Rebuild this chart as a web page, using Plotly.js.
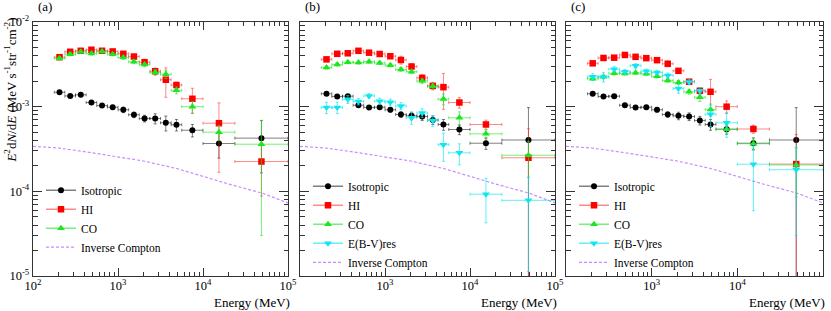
<!DOCTYPE html>
<html><head><meta charset="utf-8">
<script src="https://cdn.plot.ly/plotly-3.0.1.min.js"></script>
<style>html,body{margin:0;padding:0;background:#fff}#chart{width:831px;height:311px}</style>
</head><body><div id="chart"></div>
<script>
// Energy bins (MeV): centres and bin edges
const energy = [205, 274, 365, 487, 649, 866, 1155, 1540, 2054, 2738, 3652, 4870, 7499, 15399, 48697];
const eLo    = [178, 237, 316, 422, 562, 750, 1000, 1334, 1778, 2371, 3162, 4217, 5623, 10000, 23714];
const eHi    = [237, 316, 422, 562, 750, 1000, 1334, 1778, 2371, 3162, 4217, 5623, 10000, 23714, 100000];

// Panel (a)
const isoA    = [1.48e-3, 1.34e-3, 1.38e-3, 1.12e-3, 1.03e-3, 0.986e-3, 0.918e-3, 0.802e-3, 0.725e-3, 0.725e-3, 0.645e-3, 0.611e-3, 0.527e-3, 0.367e-3, 0.425e-3];
const isoAErr = [5e-5, 4.7e-5, 4.8e-5, 4.5e-5, 4.5e-5, 4.8e-5, 6.8e-5, 6e-5, 6.5e-5, 1.0e-4, 1.29e-4, 9.5e-5, 8.8e-5, 1.2e-4, 2.6e-4];
const hiA     = [3.84e-3, 4.45e-3, 4.57e-3, 4.70e-3, 4.57e-3, 4.49e-3, 4.21e-3, 3.91e-3, 3.35e-3, 2.62e-3, 2.08e-3, 1.80e-3, 1.24e-3, 0.638e-3, 0.225e-3];
const hiAErr  = [1.7e-4, 2.0e-4, 2.0e-4, 2.1e-4, 2.0e-4, 2.0e-4, 2.2e-4, 2.5e-4, 2.8e-4, 2.4e-4, 7.9e-4, 1.5e-4, 4.1e-4, 4.7e-4, 1.37e-4];
const coA     = [3.74e-3, 4.17e-3, 4.45e-3, 4.25e-3, 4.49e-3, 4.17e-3, 3.81e-3, 3.39e-3, 3.15e-3, 2.55e-3, 2.42e-3, 1.56e-3, 1.00e-3, 0.50e-3, 0.36e-3];
const coAErr  = [1.6e-4, 1.8e-4, 1.9e-4, 1.8e-4, 1.9e-4, 1.8e-4, 1.8e-4, 1.8e-4, 1.8e-4, 2.0e-4, 2.7e-4, 1.5e-4, 1.56e-4, 1.0e-4, 3.3e-4];

// Panel (b)
const isoB    = [1.42e-3, 1.32e-3, 1.33e-3, 1.04e-3, 0.977e-3, 0.986e-3, 0.918e-3, 0.809e-3, 0.780e-3, 0.765e-3, 0.696e-3, 0.616e-3, 0.537e-3, 0.370e-3, 0.404e-3];
const isoBErr = [4.5e-5, 4.5e-5, 4.5e-5, 4.2e-5, 4.2e-5, 4.5e-5, 5.5e-5, 6e-5, 8e-5, 8e-5, 8e-5, 9e-5, 7e-5, 5.7e-5, 5.7e-4];
const hiB     = [3.62e-3, 4.21e-3, 4.27e-3, 4.57e-3, 4.34e-3, 4.19e-3, 3.94e-3, 3.56e-3, 2.98e-3, 2.19e-3, 1.76e-3, 1.70e-3, 1.12e-3, 0.616e-3, 0.249e-3];
const hiBErr  = [1.6e-4, 1.8e-4, 1.8e-4, 2.0e-4, 1.9e-4, 1.8e-4, 1.8e-4, 3.8e-4, 2.4e-4, 1.8e-4, 1.8e-4, 7.7e-4, 1.6e-4, 7.6e-5, 3.0e-4];
const coB     = [2.90e-3, 3.15e-3, 3.35e-3, 3.32e-3, 3.40e-3, 3.28e-3, 3.09e-3, 2.75e-3, 2.59e-3, 2.01e-3, 1.74e-3, 1.23e-3, 0.739e-3, 0.478e-3, 0.267e-3];
const coBErr  = [1.2e-4, 1.3e-4, 1.4e-4, 1.4e-4, 1.4e-4, 1.4e-4, 1.3e-4, 1.3e-4, 1.3e-4, 1.3e-4, 1.3e-4, 1.8e-4, 1.3e-4, 5.5e-5, 1.2e-4];
const ebvB    = [0.977e-3, 0.977e-3, 1.22e-3, 1.15e-3, 1.34e-3, 1.16e-3, 1.13e-3, 1.02e-3, 0.739e-3, 0.842e-3, 0.687e-3, 0.356e-3, 0.285e-3, 0.0925e-3, 0.0783e-3];
const ebvBErr = [1.5e-4, 1.5e-4, 1.3e-4, 1.0e-4, 9e-5, 1.0e-4, 1.0e-4, 1.0e-4, 1.2e-4, 1.0e-4, 1.0e-4, 1.3e-4, 7.9e-5, 5e-5, 6.7e-5];

// Panel (c)
const isoC    = [1.42e-3, 1.32e-3, 1.33e-3, 1.04e-3, 0.977e-3, 0.986e-3, 0.918e-3, 0.809e-3, 0.780e-3, 0.765e-3, 0.687e-3, 0.616e-3, 0.542e-3, 0.370e-3, 0.404e-3];
const isoCErr = [4.5e-5, 4.5e-5, 4.5e-5, 4.2e-5, 4.2e-5, 4.5e-5, 5.5e-5, 6e-5, 8e-5, 8e-5, 8e-5, 9e-5, 7e-5, 5.7e-5, 5.7e-4];
const hiC     = [3.25e-3, 3.76e-3, 3.79e-3, 4.08e-3, 3.88e-3, 3.74e-3, 3.54e-3, 3.21e-3, 2.65e-3, 1.97e-3, 1.54e-3, 1.50e-3, 1.0e-3, 0.545e-3, 0.210e-3];
const hiCErr  = [1.5e-4, 1.6e-4, 1.6e-4, 1.8e-4, 1.7e-4, 1.6e-4, 1.6e-4, 2.5e-4, 1.5e-4, 1.4e-4, 1.4e-4, 6.0e-4, 1.7e-4, 6e-5, 2.6e-4];
const coC     = [2.14e-3, 2.25e-3, 2.48e-3, 2.47e-3, 2.51e-3, 2.45e-3, 2.28e-3, 2.04e-3, 1.93e-3, 1.50e-3, 1.29e-3, 0.926e-3, 0.542e-3, 0.365e-3, 0.205e-3];
const coCErr  = [1.0e-4, 1.0e-4, 1.1e-4, 1.1e-4, 1.1e-4, 1.1e-4, 1.0e-4, 1.0e-4, 1.0e-4, 1.0e-4, 1.4e-4, 1.5e-4, 5e-5, 6e-5, 1.2e-4];
const ebvC    = [2.25e-3, 2.24e-3, 2.77e-3, 2.59e-3, 3.04e-3, 2.62e-3, 2.53e-3, 2.33e-3, 1.64e-3, 1.96e-3, 1.54e-3, 0.813e-3, 0.645e-3, 0.209e-3, 0.180e-3];
const ebvCErr = [2.0e-4, 2.8e-4, 2.0e-4, 1.6e-4, 1.8e-4, 1.6e-4, 1.6e-4, 1.6e-4, 2.0e-4, 1.5e-4, 1.5e-4, 2.3e-4, 2.1e-4, 1.5e-4, 1.5e-4];

// Inverse Compton model curve
const icE    = [100, 200, 500, 1000, 2000, 5000, 10000, 20000, 50000, 100000];
const icFlux = [3.4e-4, 3.25e-4, 2.85e-4, 2.55e-4, 2.28e-4, 1.85e-4, 1.5e-4, 1.22e-4, 9.5e-5, 7.3e-5];

const seriesNames = ['Isotropic', 'HI', 'CO', 'E(B-V)res', 'Inverse Compton'];
const xTickA = [100, 1000, 10000, 100000];
const xTickBC = [1000, 10000, 100000];
const yTick = [1e-5, 1e-4, 1e-3, 1e-2];

const FONT = 'Liberation Serif';
const styles = {
  iso: {marker: {symbol: 'circle', size: 6, color: '#000'}, err: 'rgba(0,0,0,0.5)'},
  hi:  {marker: {symbol: 'square', size: 6.5, color: '#ff0000'}, err: 'rgba(255,40,40,0.55)'},
  co:  {marker: {symbol: 'triangle-up', size: 7, color: '#1ee61e'}, err: 'rgba(30,230,30,0.6)'},
  ebv: {marker: {symbol: 'triangle-down', size: 7, color: '#10e6f0'}, err: 'rgba(16,230,240,0.65)'}
};

const plusErr = energy.map((e, i) => eHi[i] - e);
const minusErr = energy.map((e, i) => e - eLo[i]);

const traces = [];
function addPanel(k, list) {
  const xa = k === 1 ? 'x' : 'x' + k;
  const ya = k === 1 ? 'y' : 'y' + k;
  const lg = k === 1 ? 'legend' : 'legend' + k;
  traces.push({
    x: icE, y: icFlux, mode: 'lines', xaxis: xa, yaxis: ya, legend: lg,
    name: seriesNames[4], legendrank: 5,
    line: {color: '#c98cff', width: 1.2, dash: '3px,2px'}, hoverinfo: 'skip'
  });
  list.forEach(([vals, errs, st, name], j) => {
    const s = styles[st];
    traces.push({
      x: energy, y: vals, mode: 'markers', xaxis: xa, yaxis: ya, showlegend: false, name: name,
      marker: s.marker,
      error_x: {type: 'data', symmetric: false, array: plusErr, arrayminus: minusErr, color: s.err, thickness: 1, width: 1.5},
      error_y: {type: 'data', array: errs, color: s.err, thickness: 1, width: 1.5}
    });
    traces.push({
      x: [null], y: [null], mode: 'lines+markers', xaxis: xa, yaxis: ya, legend: lg,
      name: name, legendrank: j + 1, marker: s.marker, line: {color: s.err, width: 1.5}
    });
  });
}
addPanel(1, [[isoA, isoAErr, 'iso', seriesNames[0]], [hiA, hiAErr, 'hi', seriesNames[1]], [coA, coAErr, 'co', seriesNames[2]]]);
addPanel(2, [[isoB, isoBErr, 'iso', seriesNames[0]], [hiB, hiBErr, 'hi', seriesNames[1]], [coB, coBErr, 'co', seriesNames[2]], [ebvB, ebvBErr, 'ebv', seriesNames[3]]]);
addPanel(3, [[isoC, isoCErr, 'iso', seriesNames[0]], [hiC, hiCErr, 'hi', seriesNames[1]], [coC, coCErr, 'co', seriesNames[2]], [ebvC, ebvCErr, 'ebv', seriesNames[3]]]);

function minorTicks(lo, hi) {
  const out = [];
  for (let d = lo; d < hi; d++) for (let m = 2; m <= 9; m++) out.push(m * Math.pow(10, d));
  return out;
}
function powLabel(v) { return '10<sup>' + Math.round(Math.log10(v)) + '</sup>'; }

const W = 831;
const doms = [[33 / W, 288 / W], [300 / W, 555 / W], [566 / W, 823 / W]];
const axisCommon = {
  type: 'log', showline: true, linecolor: '#333', linewidth: 1.3, mirror: 'allticks',
  ticks: 'inside', tickcolor: '#333', tickwidth: 1, showgrid: false, zeroline: false,
  tickfont: {family: FONT, size: 12.5, color: '#000'}, tickmode: 'array'
};
const layout = {
  width: 831, height: 311, margin: {l: 0, r: 0, t: 22, b: 35},
  paper_bgcolor: '#fff', plot_bgcolor: '#fff', showlegend: true,
  font: {family: FONT, color: '#000'},
  annotations: [],
  shapes: []
};
for (let k = 1; k <= 3; k++) {
  const xs = k === 1 ? 'xaxis' : 'xaxis' + k;
  const ys = k === 1 ? 'yaxis' : 'yaxis' + k;
  const xt = k === 1 ? xTickA : xTickBC;
  layout[xs] = Object.assign({}, axisCommon, {
    domain: doms[k - 1], range: [2, 5], anchor: k === 1 ? 'y' : 'y' + k,
    tickvals: xt, ticktext: xt.map(powLabel), ticklen: 8, ticklabelstandoff: -2,
    minor: {tickmode: 'array', tickvals: minorTicks(2, 5), ticks: 'inside', ticklen: 4, tickcolor: '#333', showgrid: false}
  });
  layout[ys] = Object.assign({}, axisCommon, {
    domain: [0, 1], range: [-5, -2], anchor: k === 1 ? 'x' : 'x' + k,
    tickvals: yTick, ticktext: yTick.map(powLabel), ticklen: 9, showticklabels: k === 1,
    minor: {tickmode: 'array', tickvals: minorTicks(-5, -2), ticks: 'inside', ticklen: 4.5, tickcolor: '#333', showgrid: false}
  });
  const lg = k === 1 ? 'legend' : 'legend' + k;
  layout[lg] = {
    x: doms[k - 1][0] + 8 / W, y: k === 1 ? 0.395 : 0.41, xanchor: 'left', yanchor: 'top',
    bgcolor: 'rgba(0,0,0,0)', borderwidth: 0, font: {family: FONT, size: 11.5, color: '#000'},
    traceorder: 'normal'
  };
  const labels = ['(a)', '(b)', '(c)'];
  layout.annotations.push({
    text: labels[k - 1], xref: 'paper', yref: 'paper', x: doms[k - 1][0] + 3 / W, y: 1.06,
    xanchor: 'left', yanchor: 'middle', showarrow: false, font: {family: FONT, size: 13, color: '#000'}
  });
  layout.annotations.push({
    text: 'Energy (MeV)', xref: 'paper', yref: 'paper', x: doms[k - 1][1] + 4 / W, y: -0.106,
    xanchor: 'right', yanchor: 'middle', showarrow: false, font: {family: FONT, size: 13, color: '#000'}
  });
}
layout.annotations.push({
  text: '<i>E</i><sup>2</sup>d<i>N</i>/d<i>E</i> (MeV s<sup>-1</sup>str<sup>-1</sup>cm<sup>-2</sup>)',
  xref: 'paper', yref: 'paper', x: 10 / W, y: 0.73, xanchor: 'center', yanchor: 'middle',
  textangle: -90, showarrow: false, font: {family: FONT, size: 13, color: '#000'}
});

Plotly.newPlot('chart', traces, layout, {staticPlot: true, displayModeBar: false});
</script>
</body></html>
